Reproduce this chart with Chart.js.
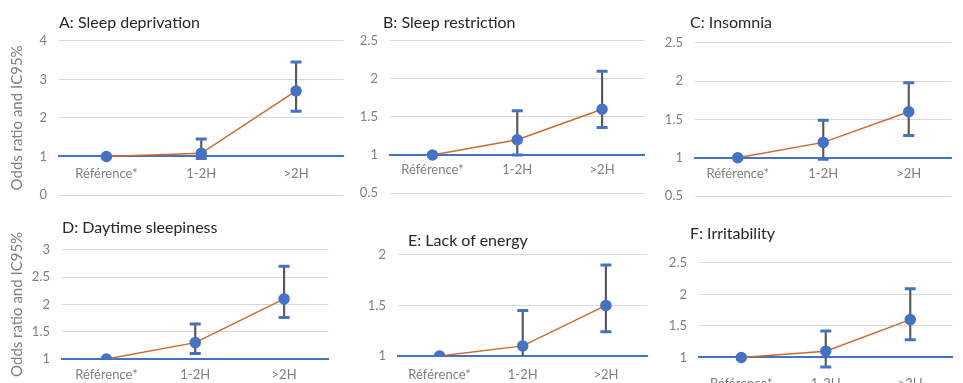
<!DOCTYPE html>
<html>
<head>
<meta charset="utf-8">
<script src="https://cdn.jsdelivr.net/npm/chart.js@4.4.1/dist/chart.umd.min.js"></script>
<style>
  body { margin: 0; background: #fff; }
  #wrap { position: relative; width: 963px; height: 383px; overflow: hidden; background: #fff; }
  #wrap canvas { position: absolute; }
  .ttl { position: absolute; font-family: Lato, sans-serif; font-size: 16px; line-height: 20px; color: #262626; white-space: nowrap; }
</style>
</head>
<body>
<div id="wrap">
  <canvas id="cA"></canvas>
  <canvas id="cB"></canvas>
  <canvas id="cC"></canvas>
  <canvas id="cD"></canvas>
  <canvas id="cE"></canvas>
  <canvas id="cF"></canvas>
  <div class="ttl" style="left:59px;top:12px">A: Sleep deprivation</div>
  <div class="ttl" style="left:383px;top:12px">B: Sleep restriction</div>
  <div class="ttl" style="left:690px;top:12px">C: Insomnia</div>
  <div class="ttl" style="left:62px;top:217px">D: Daytime sleepiness</div>
  <div class="ttl" style="left:408px;top:230px">E: Lack of energy</div>
  <div class="ttl" style="left:690px;top:223px">F: Irritability</div>
</div>
<script>
// categories shared by all panels
const categories = ['Référence*', '1-2H', '>2H'];
const yTitle = 'Odds ratio and IC95%';

// odds ratios and 95% CI (reference has no interval)
const orA = [1, 1.08, 2.7];
const lowA = [null, 0.95, 2.17];
const upA = [null, 1.45, 3.45];
const ticksA = [0, 1, 2, 3, 4];

const orB = [1, 1.2, 1.6];
const lowB = [null, 1.0, 1.36];
const upB = [null, 1.58, 2.1];
const ticksB = [0.5, 1, 1.5, 2, 2.5];

const orC = [1, 1.2, 1.6];
const lowC = [null, 0.98, 1.29];
const upC = [null, 1.49, 1.98];
const ticksC = [0.5, 1, 1.5, 2, 2.5];

const orD = [1, 1.3, 2.1];
const lowD = [null, 1.1, 1.76];
const upD = [null, 1.64, 2.7];
const ticksD = [1, 1.5, 2, 2.5, 3];

const orE = [1, 1.1, 1.5];
const lowE = [null, 0.97, 1.24];
const upE = [null, 1.45, 1.9];
const ticksE = [1, 1.5, 2];

const orF = [1, 1.1, 1.6];
const lowF = [null, 0.85, 1.28];
const upF = [null, 1.42, 2.09];
const ticksF = [0.5, 1, 1.5, 2, 2.5];

const BLUE = '#4472C4';
const GREY = '#7f7f7f';
const PAD_TOP = 12, PAD_BOTTOM = 40;

function panel(id, box, or, low, up, ticks, opts) {
  const cv = document.getElementById(id);
  const w = box.axisW + (box.right - box.left);
  const h = PAD_TOP + (box.bottom - box.top) + PAD_BOTTOM;
  cv.width = w; cv.height = h;
  cv.style.left = (box.left - box.axisW) + 'px';
  cv.style.top = (box.top - PAD_TOP) + 'px';
  cv.style.width = w + 'px'; cv.style.height = h + 'px';

  new Chart(cv.getContext('2d'), {
    data: {
      labels: categories,
      datasets: [{
        type: 'line',
        data: or,
        borderColor: '#CD6A2C',
        borderWidth: 1.5,
        pointRadius: 5,
        pointBackgroundColor: BLUE,
        pointBorderColor: BLUE,
        order: 0
      }, {
        // CI whisker
        type: 'bar',
        data: low.map((l, i) => l === null ? null : [l, up[i]]),
        backgroundColor: '#595959',
        barThickness: 1.5,
        order: 3
      }, {
        type: 'line',
        data: up,
        showLine: false,
        pointStyle: 'line',
        pointRadius: 5.5,
        pointBorderWidth: 3,
        pointBorderColor: BLUE,
        order: 2
      }, {
        type: 'line',
        data: low,
        showLine: false,
        pointStyle: 'line',
        pointRadius: 5.5,
        pointBorderWidth: 3,
        pointBorderColor: BLUE,
        order: 2
      }]
    },
    options: {
      responsive: false,
      animation: false,
      events: [],
      layout: { padding: { top: PAD_TOP, bottom: PAD_BOTTOM, left: 0, right: 0 } },
      plugins: { legend: { display: false }, tooltip: { enabled: false } },
      scales: {
        x: {
          offset: true,
          position: { y: 1 },
          grid: { display: false, drawTicks: false },
          border: { display: true, color: BLUE, width: 2 },
          ticks: { color: GREY, font: { family: 'Lato', size: 13 }, padding: opts.xPad, maxRotation: 0 },
          afterFit: s => { s.height = 0; }
        },
        y: {
          min: ticks[0],
          max: ticks[ticks.length - 1],
          afterBuildTicks: s => { s.ticks = ticks.map(v => ({ value: v })); },
          grid: { color: '#d9d9d9', lineWidth: 1, drawTicks: false },
          border: { display: false },
          ticks: { color: GREY, font: { family: 'Lato', size: 13 }, padding: 12, callback: v => String(v) },
          title: {
            display: !!opts.yTitle,
            text: yTitle,
            color: GREY,
            font: { family: 'Lato', size: 15 },
            padding: { top: 8, bottom: 0 }
          },
          afterFit: s => { s.width = box.axisW; }
        }
      }
    }
  });
}

panel('cA', { left: 59, right: 352, top: 33, bottom: 195, axisW: 59 }, orA, lowA, upA, ticksA, { xPad: 10, yTitle: true });
panel('cB', { left: 390, right: 653, top: 33, bottom: 193, axisW: 40 }, orB, lowB, upB, ticksB, { xPad: 7 });
panel('cC', { left: 695, right: 960, top: 35, bottom: 196, axisW: 40 }, orC, lowC, upC, ticksC, { xPad: 8 });
panel('cD', { left: 62, right: 337, top: 242, bottom: 359, axisW: 62 }, orD, lowD, upD, ticksD, { xPad: 8, yTitle: true });
panel('cE', { left: 398, right: 656, top: 247, bottom: 356, axisW: 40 }, orE, lowE, upE, ticksE, { xPad: 11 });
panel('cF', { left: 699, right: 961, top: 255, bottom: 389, axisW: 40 }, orF, lowF, upF, ticksF, { xPad: 19 });
</script>
</body>
</html>
